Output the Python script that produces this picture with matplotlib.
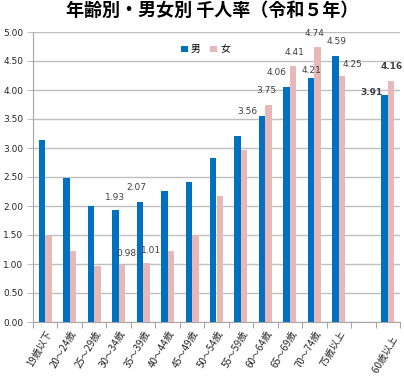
import matplotlib
matplotlib.use("Agg")
import matplotlib.pyplot as plt
import numpy as np

plt.rcParams['font.family'] = ['DejaVu Sans', 'Noto Sans CJK JP']

categories = ["19歳以下", "20～24歳", "25～29歳", "30～34歳", "35～39歳", "40～44歳",
              "45～49歳", "50～54歳", "55～59歳", "60～64歳", "65～69歳", "70～74歳",
              "75歳以上", "", "（参考）60歳以上"]
male = [3.13, 2.48, 2.00, 1.93, 2.07, 2.26, 2.42, 2.82, 3.20, 3.56, 4.06, 4.21, 4.59, np.nan, 3.91]
female = [1.50, 1.23, 0.96, 0.98, 1.01, 1.23, 1.50, 2.18, 2.96, 3.75, 4.41, 4.74, 4.25, np.nan, 4.16]
yticks = [0.0, 0.5, 1.0, 1.5, 2.0, 2.5, 3.0, 3.5, 4.0, 4.5, 5.0]

# labels: (series, index, offset_px, bold)
labels = [("m", 3, (0, 13), False), ("m", 4, (-3, 14), False),
          ("f", 3, (5, 12), False), ("f", 4, (5, 13), False),
          ("m", 9, (-15, 4), False), ("f", 9, (-2, 14), False),
          ("m", 10, (-10, 14), False), ("f", 10, (1, 14), False),
          ("m", 11, (0, 7), False), ("f", 11, (-3, 14), False),
          ("m", 12, (1, 14), False), ("f", 12, (10, 11), False),
          ("m", 14, (-13, 3), True), ("f", 14, (1, 14), True)]

fig = plt.figure(figsize=(4.04, 3.76), dpi=100)
ax = fig.add_axes([33/404, 1-322/376, 367/404, 290/376])

x = np.arange(len(categories))
w = 0.265
cm, cf = "#0070C0", "#E6B9B8"
ax.bar(x - w/2, male, w, color=cm, label="男", zorder=3)
ax.bar(x + w/2, female, w, color=cf, label="女", zorder=3)

ax.set_xlim(-0.5, len(categories) - 0.5)
ax.set_ylim(0, 5.0)
ax.set_yticks(yticks)
ax.set_yticklabels([f"{v:.2f}" for v in yticks], fontsize=6.5, color="#262626")
ax.yaxis.grid(True, color="#BFBFBF", linewidth=1.0, zorder=0)
ax.tick_params(axis='y', length=4, color="#BFBFBF", pad=3)
ax.set_xticks(np.arange(-0.5, len(categories), 1.0), minor=False)
ax.set_xticklabels([])
ax.set_xticks(x, minor=True)
ax.set_xticklabels(categories, minor=True, rotation=60, ha='right', va='top',
                   rotation_mode='anchor', fontsize=7, color="#262626",
                   family=['Noto Sans CJK JP', 'DejaVu Sans'])
ax.tick_params(axis='x', which='major', length=4, color="#A6A6A6")
ax.tick_params(axis='x', which='minor', length=0, pad=5)
for s in ['top', 'right']:
    ax.spines[s].set_visible(False)
ax.spines['left'].set_color("#A6A6A6")
ax.spines['bottom'].set_color("#A6A6A6")

for ser, i, off, bold in labels:
    vals = male if ser == "m" else female
    xc = i - w/2 if ser == "m" else i + w/2
    ax.annotate(f"{vals[i]:.2f}", (xc, vals[i]), xytext=off, textcoords='offset pixels',
                ha='center', va='center', fontsize=6.5, color="#404040",
                fontweight='bold' if bold else 'normal', zorder=5)

ax.legend(loc='center', bbox_to_anchor=(0.47, 0.94), ncol=2, frameon=False,
          handlelength=0.7, handleheight=0.7, handletextpad=0.3, columnspacing=1.0,
          prop={'family': ['Noto Sans CJK JP'], 'size': 7})

fig.text(0.525, 0.972, "年齢別・男女別 千人率（令和５年）", ha='center', va='center',
         fontsize=13, fontweight='bold', family=['Noto Sans CJK JP'])

fig.savefig("out.png", dpi=100)
